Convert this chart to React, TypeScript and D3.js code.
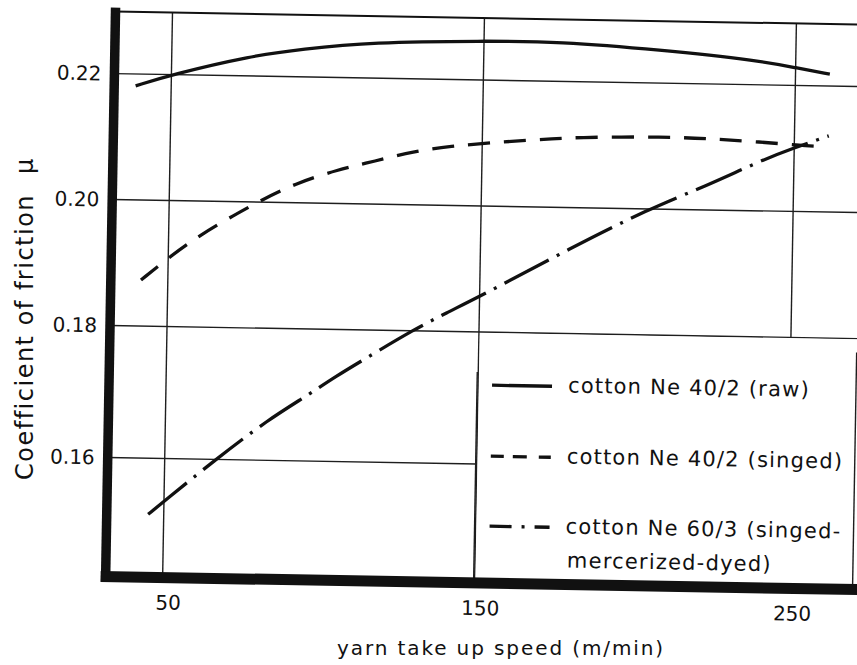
import React from 'react';
import * as d3 from 'd3';

const W = 857;
const H = 665;

// Series values (x: yarn take up speed m/min, y: coefficient of friction)
const rawX = [38.6, 50, 75.6, 91.6, 114, 150, 174, 206, 239, 250, 261];
const rawY = [0.2181, 0.22, 0.2232, 0.2244, 0.2257, 0.2262, 0.2263, 0.2253, 0.2238, 0.2228, 0.2219];

const singedX = [41.4, 50, 60, 71, 79.5, 90, 104, 115.6, 128, 140, 153, 166, 180, 209, 223, 237, 252, 258];
const singedY = [0.1873, 0.1909, 0.1946, 0.1979, 0.2003, 0.203, 0.2054, 0.2068, 0.2085, 0.2094, 0.2101, 0.2106, 0.2112, 0.2115, 0.2113, 0.211, 0.2105, 0.2104];

const mercX = [45, 50, 65.8, 83, 96.3, 103.3, 117.6, 128.5, 139.6, 150, 179, 203.7, 222, 239, 250, 261];
const mercY = [0.1515, 0.1535, 0.1598, 0.1662, 0.1702, 0.1726, 0.1768, 0.18, 0.183, 0.1856, 0.1936, 0.2, 0.2038, 0.2079, 0.2101, 0.2121];

const xTicks = [50, 150, 250];
const xTickLabels = ['50', '150', '250'];
const yTicks = [0.16, 0.18, 0.2, 0.22];
const yTickLabels = ['0.16', '0.18', '0.20', '0.22'];

const legendLines = [
  ['cotton Ne 40/2 (raw)'],
  ['cotton Ne 40/2 (singed)'],
  ['cotton Ne 60/3 (singed-', 'mercerized-dyed)'],
];

const xTitle = 'yarn take up speed (m/min)';
const yTitle = 'Coefficient of friction';
const yTitleSymbol = 'μ';

export default function App() {
  // scales in the un-skewed frame; the scanned figure is rotated slightly
  const x = d3.scaleLinear().domain([50, 250]).range([167, 791]);
  const y = d3.scaleLinear().domain([0.16, 0.18, 0.2, 0.22]).range([464, 332, 206, 80]);

  const left = 110;
  const right = 885;
  const top = 18;
  const bottom = 583;

  const line = d3
    .line<[number, number]>()
    .x((d) => x(d[0]))
    .y((d) => y(d[1]))
    .curve(d3.curveBasis);

  const zip = (xs: number[], ys: number[]) => xs.map((v, i) => [v, ys[i]] as [number, number]);

  const series = [
    { pts: zip(rawX, rawY), dash: undefined as string | undefined, legendDash: undefined as string | undefined },
    { pts: zip(singedX, singedY), dash: '22 14', legendDash: '13 9 14 12 22' },
    { pts: zip(mercX, mercY), dash: '50 9 3 9', legendDash: '22 10 3 10 30' },
  ];

  const ink = '#111';
  const grid = '#1e1e1e';
  const font = '"DejaVu Sans", Verdana, sans-serif';

  const legLeft = x(150);
  const legTop = y(0.18);
  const rows = [391, 462, 532];

  return (
    <svg
      width={W}
      height={H}
      style={{ position: 'absolute', left: 0, top: 0, background: '#fff' }}
      fontFamily={font}
    >
      <rect x={0} y={0} width={W} height={H} fill="#fff" />
      <g transform="rotate(1 480 330)">
        {/* horizontal grid lines */}
        {yTicks.map((t) => (
          <line
            key={'h' + t}
            x1={left}
            x2={t === 0.16 ? legLeft : right}
            y1={y(t)}
            y2={y(t)}
            stroke={grid}
            strokeWidth={1.4}
          />
        ))}
        {/* vertical grid lines */}
        {xTicks.map((t) => (
          <line
            key={'v' + t}
            x1={x(t)}
            x2={x(t)}
            y1={top}
            y2={t === 250 ? legTop : bottom}
            stroke={grid}
            strokeWidth={1.4}
          />
        ))}

        {/* curves */}
        {series.map((s, i) => (
          <path
            key={'s' + i}
            d={line(s.pts) || ''}
            fill="none"
            stroke={ink}
            strokeWidth={3.3}
            strokeDasharray={s.dash}
          />
        ))}

        {/* legend box */}
        <rect x={legLeft + 1} y={legTop + 1} width={right - legLeft} height={bottom - legTop - 6} fill="#fff" />
        <line x1={legLeft - 1} x2={legLeft - 1} y1={legTop + 40} y2={bottom} stroke={grid} strokeWidth={1.4} />
        <line x1={857} x2={857} y1={legTop + 14} y2={bottom} stroke={grid} strokeWidth={1.4} />
        {series.map((s, i) => (
          <g key={'l' + i}>
            <line
              x1={493}
              x2={553}
              y1={rows[i] - 6}
              y2={rows[i] - 6}
              stroke={ink}
              strokeWidth={3.3}
              strokeDasharray={s.legendDash}
            />
            {legendLines[i].map((txt, j) => (
              <text
                key={j}
                x={569 + (j > 0 ? 2 : 0)}
                y={rows[i] + j * 34}
                fontSize={21}
                letterSpacing={1.2}
                fill={ink}
              >
                {txt}
              </text>
            ))}
          </g>
        ))}

        {/* frame */}
        <line x1={left} x2={right} y1={top} y2={top} stroke={ink} strokeWidth={2} />
        <line x1={left} x2={left} y1={top - 4} y2={bottom + 5} stroke={ink} strokeWidth={9.5} />
        <line x1={left - 5} x2={right} y1={bottom} y2={bottom} stroke={ink} strokeWidth={11} />

        {/* tick labels */}
        {yTicks.map((t, i) => (
          <text key={'yt' + t} x={97} y={y(t) + 7} textAnchor="end" fontSize={20} fill={ink}>
            {yTickLabels[i]}
          </text>
        ))}
        {xTicks.map((t, i) => (
          <text key={'xt' + t} x={x(t) + 6} y={615} textAnchor="middle" fontSize={20} fill={ink}>
            {xTickLabels[i]}
          </text>
        ))}
      </g>

      {/* axis titles */}
      <text x={337} y={655} fontSize={20} letterSpacing={1.9} fill={ink}>
        {xTitle}
      </text>
      <text transform="translate(33,480) rotate(-90)" fontSize={24} letterSpacing={1.5} fill={ink}>
        {yTitle}
        <tspan dx={20}>{yTitleSymbol}</tspan>
      </text>
    </svg>
  );
}
